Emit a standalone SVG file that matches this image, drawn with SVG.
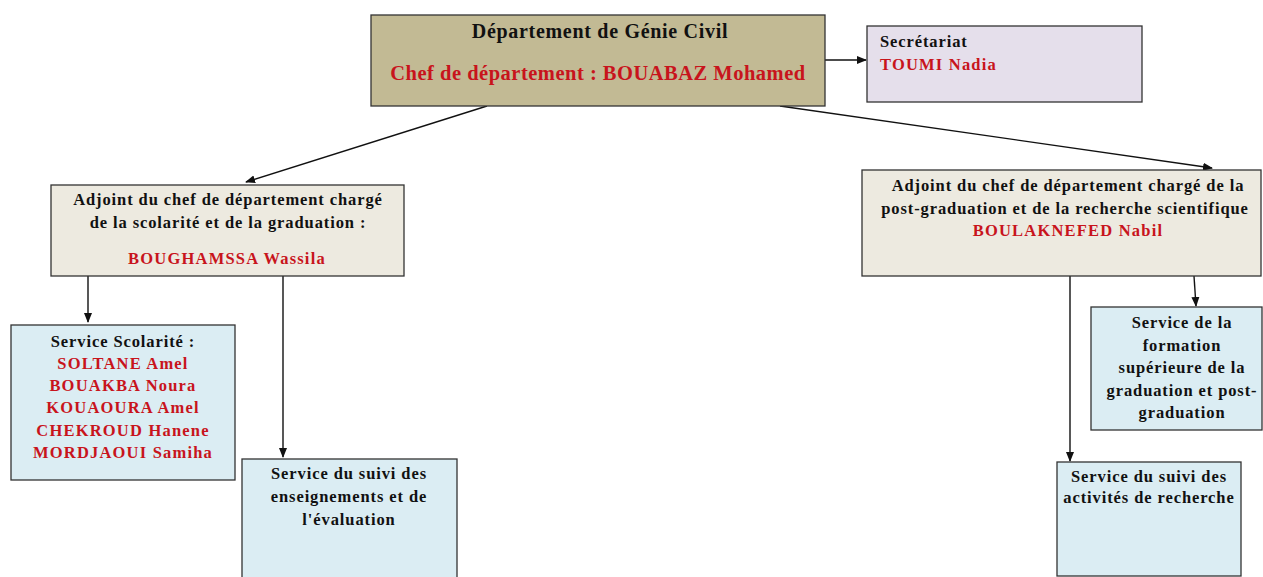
<svg xmlns="http://www.w3.org/2000/svg" width="1263" height="577" viewBox="0 0 1263 577">
<defs>
<marker id="arr" markerWidth="10" markerHeight="10" refX="9" refY="5" orient="auto" markerUnits="userSpaceOnUse"><path d="M0,1 L10,5 L0,9 z" fill="#111"/></marker>
<style>
.box{stroke:#333;stroke-width:1.3}
.t{font-family:"Liberation Serif","Times New Roman",serif;font-weight:bold;font-size:16.5px;letter-spacing:0.9px;fill:#111}
.r{fill:#C8141C;letter-spacing:1.2px}
.c{text-anchor:middle}
.line{stroke:#111;stroke-width:1.4;fill:none;marker-end:url(#arr)}
</style>
</defs>
<rect width="1263" height="577" fill="#fff"/>
<g id="connectors">
<line class="line" x1="825" y1="60" x2="866" y2="60"/>
<line class="line" x1="487" y1="106" x2="246" y2="182"/>
<line class="line" x1="780" y1="106" x2="1212" y2="168"/>
<line class="line" x1="88" y1="276" x2="88" y2="322"/>
<line class="line" x1="283" y1="276" x2="283" y2="457"/>
<line class="line" x1="1070" y1="276" x2="1070" y2="461"/>
<line class="line" x1="1194" y1="276" x2="1196" y2="306"/>
</g>
<g id="departement">
<rect class="box" x="371" y="15" width="454" height="91" fill="#C2BA94"/>
<text class="t c" x="600" y="38" style="font-size:20px;letter-spacing:0.7px">Département de Génie Civil</text>
<text class="t c r" x="598" y="80" style="font-size:20.5px;letter-spacing:0.5px">Chef de département : BOUABAZ Mohamed</text>
</g>
<g id="secretariat">
<rect class="box" x="867" y="26" width="275" height="76" fill="#E5DFEB"/>
<text class="t" x="880" y="47">Secrétariat</text>
<text class="t r" x="880" y="70">TOUMI Nadia</text>
</g>
<g id="adjoint-scolarite">
<rect class="box" x="51" y="185" width="353" height="91" fill="#EDEAE0"/>
<text class="t c" x="228" y="205">Adjoint du chef de département chargé</text>
<text class="t c" x="228" y="228">de la scolarité et de la graduation :</text>
<text class="t c r" x="227" y="264">BOUGHAMSSA Wassila</text>
</g>
<g id="adjoint-recherche">
<rect class="box" x="862" y="170" width="399" height="106" fill="#EDEAE0"/>
<text class="t c" x="1068" y="191">Adjoint du chef de département chargé de la</text>
<text class="t c" x="1065" y="214">post-graduation et de la recherche scientifique</text>
<text class="t c r" x="1068" y="236">BOULAKNEFED Nabil</text>
</g>
<g id="service-scolarite">
<rect class="box" x="11" y="325" width="224" height="155" fill="#DBEDF3"/>
<text class="t c" x="123" y="347">Service Scolarité :</text>
<text class="t c r" x="123" y="369">SOLTANE Amel</text>
<text class="t c r" x="123" y="391">BOUAKBA Noura</text>
<text class="t c r" x="123" y="413">KOUAOURA Amel</text>
<text class="t c r" x="123" y="436">CHEKROUD Hanene</text>
<text class="t c r" x="123" y="458">MORDJAOUI Samiha</text>
</g>
<g id="service-suivi-enseignements">
<rect class="box" x="242" y="459" width="215" height="125" fill="#DBEDF3"/>
<text class="t c" x="349" y="479">Service du suivi des</text>
<text class="t c" x="349" y="502">enseignements et de</text>
<text class="t c" x="349" y="525">l'évaluation</text>
</g>
<g id="service-formation">
<rect class="box" x="1091" y="307" width="171" height="123" fill="#DBEDF3"/>
<text class="t c" x="1182" y="328">Service de la</text>
<text class="t c" x="1182" y="351">formation</text>
<text class="t c" x="1182" y="373">supérieure de la</text>
<text class="t c" x="1182" y="396">graduation et post-</text>
<text class="t c" x="1182" y="418">graduation</text>
</g>
<g id="service-suivi-recherche">
<rect class="box" x="1057" y="462" width="184" height="114" fill="#DBEDF3"/>
<text class="t c" x="1149" y="482">Service du suivi des</text>
<text class="t c" x="1149" y="503">activités de recherche</text>
</g>
</svg>
